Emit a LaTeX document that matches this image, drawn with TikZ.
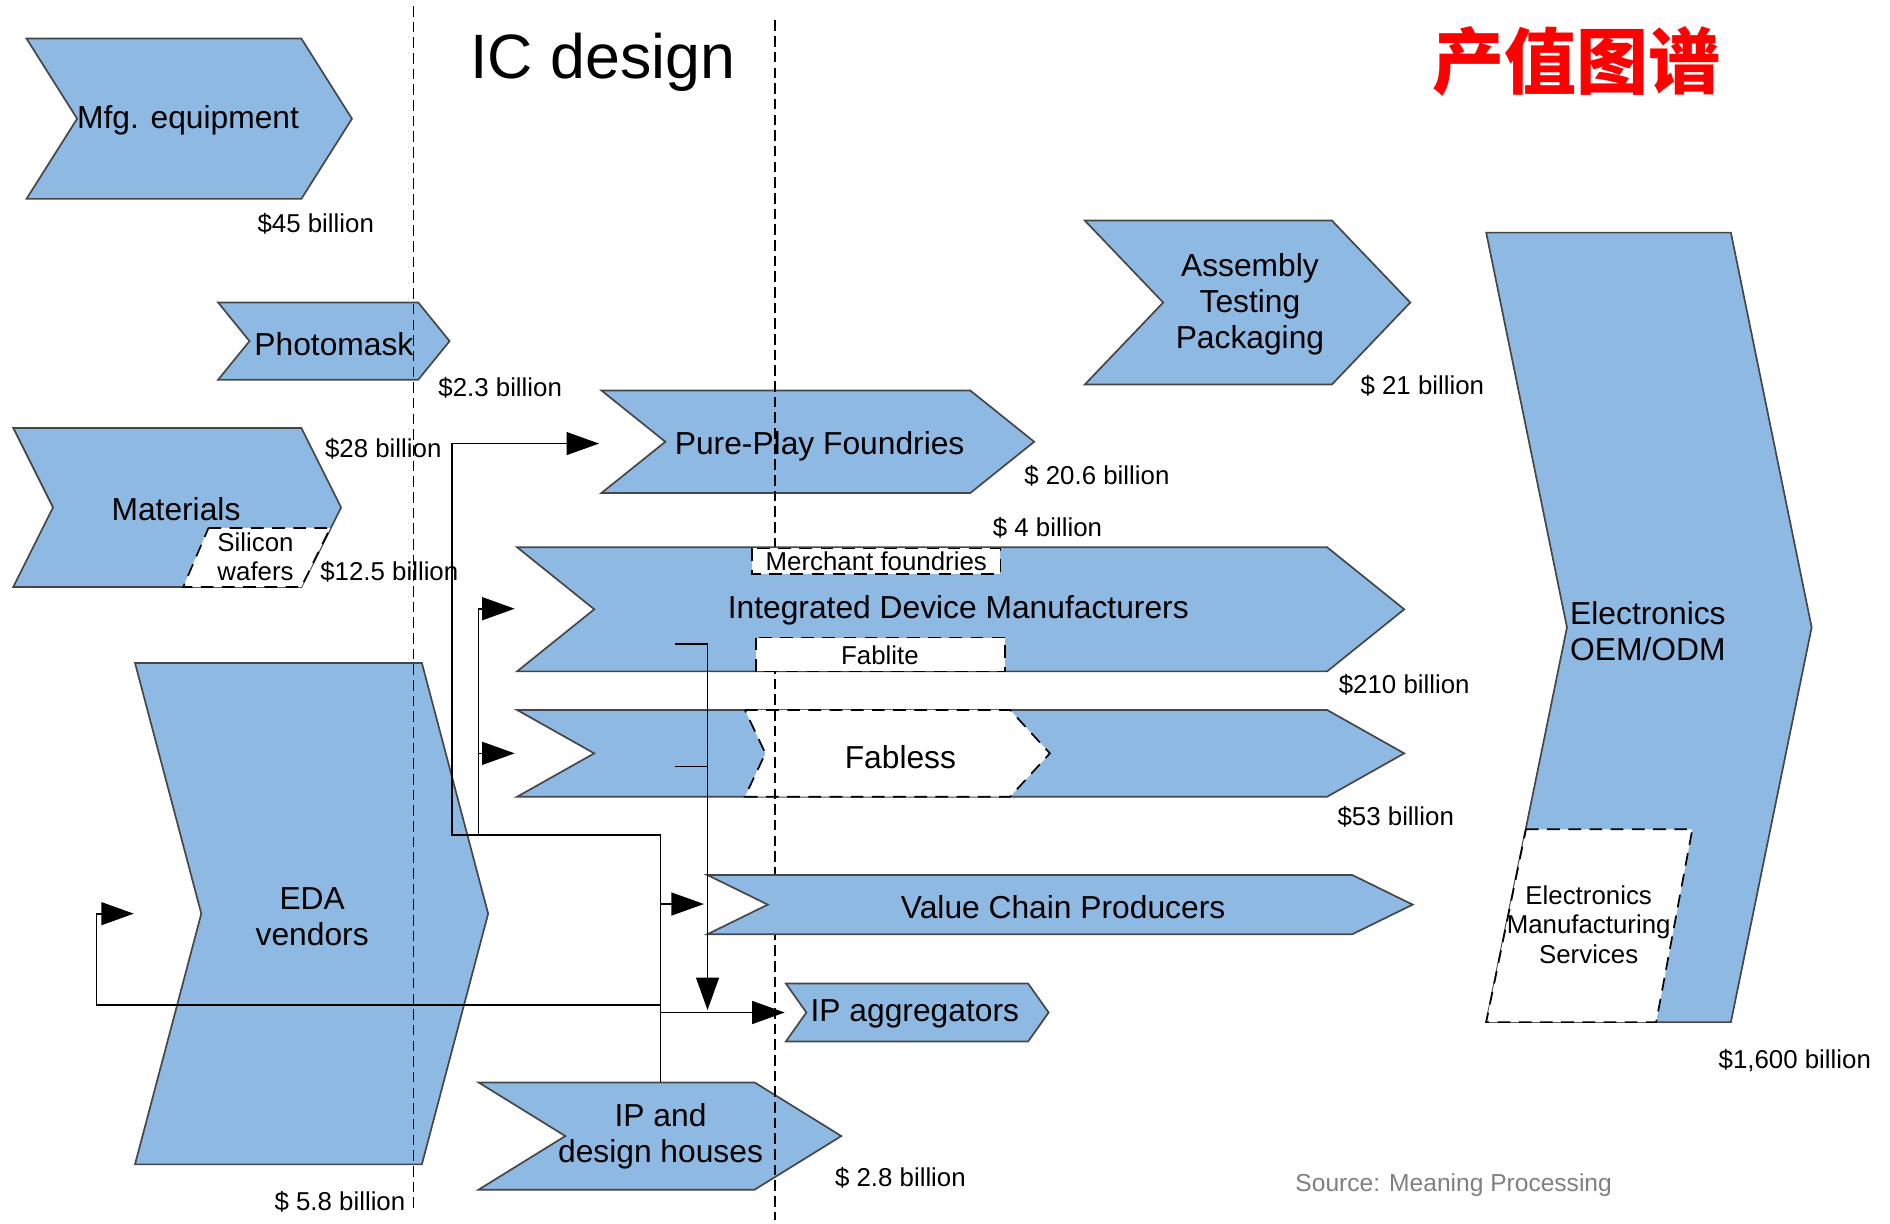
\documentclass[tikz,border=0pt]{standalone}
\usepackage{fontspec}
\setmainfont{Liberation Sans}
\newfontfamily\cjk{Noto Sans CJK SC}
\usetikzlibrary{calc,arrows.meta}
\definecolor{chevblue}{RGB}{141,185,227}
\definecolor{chevline}{RGB}{70,70,70}

% chevron: [style] left x, shoulder x, top y, bottom y, depth
\newcommand{\chev}[6][]{%
  \pgfmathsetmacro{\chevmid}{(#4+#5)/2}
  \filldraw[chevron,#1] (#2,#4) -- (#3,#4) -- ({#3+#6},\chevmid) -- (#3,#5) -- (#2,#5) -- ({#2+#6},\chevmid) -- cycle;}

\tikzset{
  chevron/.style={fill=chevblue, draw=chevline, thin},
  inset/.style={fill=white, draw=black, densely dashed, thin},
  divider/.style={draw=black, line width=0.3pt, dash pattern=on 2.5pt off 1.2pt},
  flow/.style={draw=black, thin, -{Triangle[length=2.7mm,width=1.9mm]}},
  link/.style={draw=black, thin},
  lbl/.style={font=\fontsize{7.5}{8.4}\selectfont, align=center, inner sep=0pt, yshift=-0.25mm},
  val/.style={font=\fontsize{6.1}{7}\selectfont, inner sep=0pt},
}

\begin{document}
\begin{tikzpicture}[x=0.1mm,y=-0.1mm]
        \useasboundingbox (0,0) rectangle (1568,1015);

        % suppliers
        \chev{22}{250}{32}{165}{42}
        \chev{181}{347}{251}{315}{26}
        \chev{11}{250}{355}{487}{33}
        \filldraw[inset] (173,438) -- (274,438) -- (250,487) -- (152,487) -- cycle;
        \chev{112}{350}{550}{966}{55}

        % manufacturing and design
        \chev{499}{805}{324}{409}{53}
        \chev{429}{1101}{589}{661}{64}
        \filldraw[inset] (618,589) -- (838,589) -- (871,625) -- (838,661) -- (618,661) -- (635,625) -- cycle;
        \chev{652}{853}{816}{864}{17}
        \chev{397}{626}{898}{987}{72}
        \chev{900}{1105}{183}{319}{65}
        \chev{1233}{1436}{193}{848}{67}
        \filldraw[inset] (1266,688) -- (1404,688) -- (1374,848) -- (1233,848) -- cycle;

        \draw[divider] (343,5) -- (343,1003);
        \draw[divider] (643,17) -- (643,1012);

        \chev{429}{1101}{454}{557}{64}
        \filldraw[inset] (624,455) rectangle (830,476);
        \filldraw[inset] (627,529) rectangle (834,557);
        \chev{587}{1122}{726}{775}{50}

        % connectors
        \coordinate (ipd-top) at (548,898);
        \coordinate (pure-in) at (497,368);
        \coordinate (idm-in) at (427,505);
        \coordinate (fab-in) at (427,625);
        \coordinate (vcp-in) at (584,750);
        \coordinate (ipa-in) at (651,840);
        \coordinate (eda-in) at (111,758);
        \coordinate (idm-tap) at (560,534);
        \coordinate (fab-tap) at (560,636);
        \coordinate (ipa-top) at (587,838);

        \draw[flow] (ipd-top) |- (375,693) |- (pure-in);
        \draw[flow] (397,693) |- (idm-in);
        \draw[flow] (397,625) -- (fab-in);
        \draw[flow] (548,750) -- (vcp-in);
        \draw[flow] (548,840) -- (ipa-in);
        \draw[flow] (548,834) -| (80,758) -- (eda-in);
        \draw[flow] (idm-tap) -| (ipa-top);
        \draw[link] (fab-tap) -- (587,636);

        % labels
        \node[lbl] (mfg) at (156,97) {Mfg. equipment};
        \node[val] (mfg-val) at (262,186) {\$45 billion};
        \node[lbl] (mask) at (277,283) {Photomask};
        \node[val] (mask-val) at (415,322) {\$2.3 billion};
        \node[lbl] (mat) at (146,420) {Materials};
        \node[val, align=center] (wafer) at (212,462) {Silicon\\wafers};
        \node[val] (mat-val) at (318,372) {\$28 billion};
        \node[val] (wafer-val) at (323,474) {\$12.5 billion};
        \node[lbl] (eda) at (259,758) {EDA\\vendors};
        \node[val] (eda-val) at (282,997) {\$ 5.8 billion};

        \node[lbl] (pure) at (680,368) {Pure-Play Foundries};
        \node[val] (pure-val) at (910,395) {\$ 20.6 billion};
        \node[val] (merch-val) at (869,438) {\$ 4 billion};
        \node[val] (merch) at (727,466) {Merchant foundries};
        \node[lbl] (idm) at (795,504) {Integrated Device Manufacturers};
        \node[val] (fablite) at (730,544) {Fablite};
        \node[val] (idm-val) at (1165,568) {\$210 billion};
        \node[lbl] (fabless) at (747,626) {Fabless};
        \node[val] (fabless-val) at (1158,678) {\$53 billion};
        \node[lbl] (vcp) at (882,750) {Value Chain Producers};
        \node[lbl] (ipa) at (759,839) {IP aggregators};
        \node[lbl] (ipd) at (548,940) {IP and\\design houses};
        \node[val] (ipd-val) at (747,977) {\$ 2.8 billion};

        \node[lbl] (atp) at (1037,250) {Assembly\\Testing\\Packaging};
        \node[val] (atp-val) at (1180,320) {\$ 21 billion};
        \node[lbl, anchor=west, align=left] (oem) at (1302,521) {Electronics\\OEM/ODM};
        \node[val, align=center] (ems) at (1318,767) {Electronics\\Manufacturing\\Services};
        \node[val] (oem-val) at (1489,880) {\$1,600 billion};
        \node[val, text=gray, font=\fontsize{5.8}{7}\selectfont] (src) at (1206,983) {Source: Meaning Processing};

        \node[font=\fontsize{14.8}{16}\selectfont] (title) at (500,52) {IC design};
        \node[font=\cjk\bfseries\fontsize{17}{18}\selectfont, text=red] (title-cn) at (1308,51) {产值图谱};
\end{tikzpicture}
\end{document}
